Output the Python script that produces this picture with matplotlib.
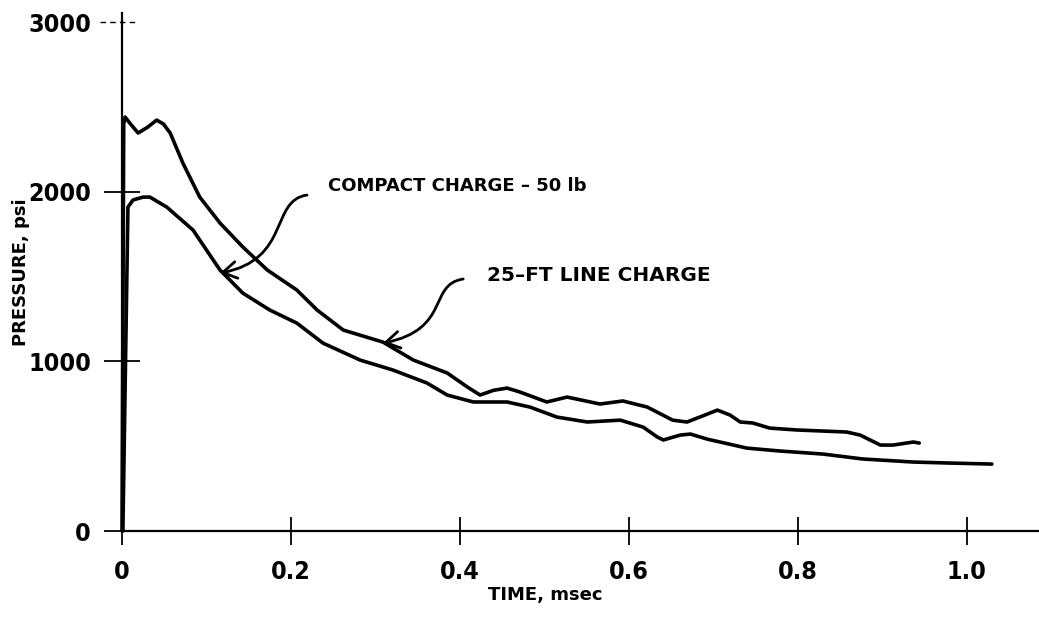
import numpy as np
import matplotlib
matplotlib.use("Agg")
import matplotlib.pyplot as plt
from matplotlib import font_manager
from matplotlib.path import Path
from matplotlib.patches import FancyArrowPatch

# condensed face for the digits if the system has one
cond = [f for f in font_manager.fontManager.ttflist
        if 'Condensed' in f.fname or 'Narrow' in f.fname]
cond_bold = [f.fname for f in cond if 'Bold' in f.fname and 'Oblique' not in f.fname
             and 'Italic' not in f.fname]
if cond_bold:
    digit_font = font_manager.FontProperties(fname=cond_bold[0], size=18)
else:
    digit_font = font_manager.FontProperties(family='DejaVu Sans', weight='bold', size=16)

# 25-ft line charge (upper curve), time in msec, pressure in psi
line_t = [0.0, 0.002, 0.0036, 0.010, 0.019, 0.030, 0.041, 0.049, 0.057, 0.072, 0.092, 0.116, 0.143,
          0.172, 0.207, 0.231, 0.262, 0.309, 0.345, 0.385, 0.409, 0.424, 0.440, 0.456,
          0.471, 0.503, 0.527, 0.566, 0.593, 0.622, 0.652, 0.669, 0.684, 0.705,
          0.720, 0.732, 0.747, 0.767, 0.799, 0.858, 0.874, 0.898, 0.913, 0.937, 0.944]
line_p = [0, 2400, 2441, 2400, 2347, 2380, 2423, 2400, 2347, 2170, 1969, 1816, 1675,
          1539, 1421, 1303, 1185, 1114, 1008, 932, 849, 802, 830, 843,
          820, 761, 790, 749, 767, 731, 654, 643, 672, 713,
          684, 643, 637, 607, 596, 584, 566, 507, 507, 525, 519]

# compact charge - 50 lb (lower curve)
compact_t = [0.001, 0.007, 0.013, 0.025, 0.033, 0.053, 0.084, 0.116, 0.143, 0.175,
             0.207, 0.238, 0.282, 0.321, 0.361, 0.385, 0.416, 0.456, 0.483, 0.515,
             0.551, 0.590, 0.617, 0.634, 0.641, 0.661, 0.673, 0.693, 0.740, 0.779,
             0.830, 0.877, 0.937, 0.980, 1.030]
compact_p = [0, 1910, 1952, 1969, 1969, 1910, 1775, 1539, 1403, 1303,
             1226, 1108, 1008, 949, 873, 802, 761, 761, 731, 672,
             643, 654, 613, 554, 537, 566, 572, 542, 489, 472,
             454, 425, 407, 401, 395]

xticks = [0, 0.2, 0.4, 0.6, 0.8, 1.0]
xticklabels = ['0', '0.2', '0.4', '0.6', '0.8', '1.0']
yticks = [0, 1000, 2000, 3000]
yticklabels = ['0', '1000', '2000', '3000']

fig = plt.figure(figsize=(10.39, 6.34), dpi=100)
ax = fig.add_axes([0.0934, 0.1356, 0.9066, 0.8438])

ax.plot(line_t, line_p, color='black', lw=2.6, solid_capstyle='round', solid_joinstyle='round')
ax.plot(compact_t, compact_p, color='black', lw=2.6, solid_capstyle='round', solid_joinstyle='round')

ax.set_xlim(-0.0296, 1.0858)
ax.set_ylim(-100, 3054)

for s in ['top', 'right']:
    ax.spines[s].set_visible(False)
ax.spines['left'].set_position(('data', 0))
ax.spines['bottom'].set_position(('data', 0))
ax.spines['left'].set_bounds(0, 3054)
ax.spines['bottom'].set_bounds(0, 1.0858)
ax.spines['left'].set_linewidth(1.6)
ax.spines['bottom'].set_linewidth(1.6)

ax.set_xticks(xticks)
ax.set_xticklabels(xticklabels)
ax.set_yticks(yticks)
ax.set_yticklabels(yticklabels)
for lab in ax.get_xticklabels() + ax.get_yticklabels():
    lab.set_fontproperties(digit_font)
ax.tick_params(axis='x', direction='inout', length=19.5, width=1.3, pad=11)
ax.tick_params(axis='y', direction='inout', length=26.6, width=1.3, pad=9)

# top tick drawn dashed instead
ax.yaxis.get_major_ticks()[3].tick1line.set_visible(False)
ax.plot([-0.026, 0.018], [yticks[3], yticks[3]], color='black', lw=1.0,
        dashes=(4, 3), clip_on=False)

ax.set_xlabel('TIME, msec', fontweight='bold', fontsize=13)
ax.xaxis.set_label_coords(0.4756, -0.071)
ax.set_ylabel('PRESSURE, psi', fontweight='bold', fontsize=13, va='center')
ax.yaxis.set_label_coords(-0.0807, 0.516)

ax.text(0.244, 2034, 'COMPACT CHARGE \u2013 50 lb', fontweight='bold', fontsize=13,
        va='center', ha='left')
ax.text(0.4325, 1509, '25\u2013FT LINE CHARGE', fontweight='bold', fontsize=14.5,
        va='center', ha='left')

codes = [Path.MOVETO, Path.CURVE4, Path.CURVE4, Path.CURVE4]
arrow_paths = [
    [(0.219, 1981), (0.175, 1950), (0.200, 1600), (0.116, 1521)],
    [(0.404, 1486), (0.362, 1455), (0.390, 1190), (0.309, 1108)],
]
for verts in arrow_paths:
    arr = FancyArrowPatch(path=Path(verts, codes), arrowstyle='->,head_length=0.5,head_width=0.3',
                          mutation_scale=20, lw=2.0, color='black', transform=ax.transData)
    ax.add_patch(arr)

fig.savefig('out.png', dpi=100)
